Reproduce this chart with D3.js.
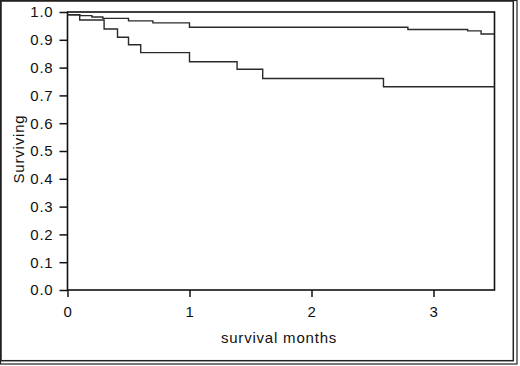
<!DOCTYPE html>
<html>
<head>
<meta charset="utf-8">
<script src="https://cdn.jsdelivr.net/npm/d3@7"></script>
<style>
  body { margin: 0; background: #fff; }
  svg { display: block; }
  text { font-family: "Liberation Sans", Arial, sans-serif; font-size: 15px; letter-spacing: 0.8px; fill: #111; }
</style>
</head>
<body>
<svg id="chart" width="520" height="366"></svg>
<script>
// Kaplan-Meier curves (time in months, survival fraction)
const upperTimes = [0, 0.10, 0.20, 0.29, 0.50, 0.70, 1.00, 2.79, 3.28, 3.39, 3.5];
const upperSurv  = [0.990, 0.987, 0.982, 0.977, 0.968, 0.961, 0.945, 0.937, 0.932, 0.921, 0.921];

const lowerTimes = [0, 0.10, 0.30, 0.41, 0.50, 0.60, 1.00, 1.39, 1.60, 2.59, 3.5];
const lowerSurv  = [0.990, 0.971, 0.939, 0.909, 0.882, 0.854, 0.821, 0.794, 0.761, 0.731, 0.731];

const xTicks = [0, 1, 2, 3];
const yTicks = [0, 0.1, 0.2, 0.3, 0.4, 0.5, 0.6, 0.7, 0.8, 0.9, 1.0];

const svg = d3.select("#chart");

// outer frame (double line on right / bottom)
svg.append("rect").attr("x", 0.5).attr("y", 0.5).attr("width", 516.5).attr("height", 363.5)
  .attr("fill", "none").attr("stroke", "#222").attr("stroke-width", 1.2);
svg.append("rect").attr("x", 1).attr("y", 1).attr("width", 512.3).attr("height", 359.7)
  .attr("fill", "none").attr("stroke", "#222").attr("stroke-width", 1.5);

const x = d3.scaleLinear().domain([0, 3.5]).range([67.5, 494.5]);
const y = d3.scaleLinear().domain([0, 1]).range([290, 12]);

svg.append("g")
  .attr("transform", "translate(" + x(0) + ",0)")
  .call(d3.axisLeft(y).tickValues(yTicks).tickFormat(d3.format(".1f")).tickSize(8).tickSizeOuter(0).tickPadding(6))
  .call(g => g.select(".domain").remove())
  .call(g => g.selectAll("line").attr("stroke", "#111").attr("stroke-width", 1.5))
  .call(g => g.selectAll("text").attr("font-size", null).attr("font-family", null).attr("fill", null));

svg.append("g")
  .attr("transform", "translate(0," + y(0) + ")")
  .call(d3.axisBottom(x).tickValues(xTicks).tickFormat(d3.format("d")).tickSize(7).tickSizeOuter(0).tickPadding(9))
  .call(g => g.select(".domain").remove())
  .call(g => g.selectAll("line").attr("stroke", "#111").attr("stroke-width", 1.5))
  .call(g => g.selectAll("text").attr("font-size", null).attr("font-family", null).attr("fill", null));

// plot box
svg.append("rect")
  .attr("x", x(0)).attr("y", y(1))
  .attr("width", x(3.5) - x(0)).attr("height", y(0) - y(1))
  .attr("fill", "none").attr("stroke", "#111").attr("stroke-width", 1.6);

const line = d3.line()
  .x(d => x(d[0]))
  .y(d => y(d[1]))
  .curve(d3.curveStepAfter);

const curves = [
  d3.zip(upperTimes, upperSurv),
  d3.zip(lowerTimes, lowerSurv)
];

svg.append("g").selectAll("path")
  .data(curves)
  .join("path")
    .attr("d", line)
    .attr("fill", "none")
    .attr("stroke", "#2a2a2a")
    .attr("stroke-width", 1.4);

svg.append("text")
  .attr("x", 279).attr("y", 343)
  .attr("text-anchor", "middle")
  .text("survival months");

svg.append("text")
  .attr("transform", "translate(24,149) rotate(-90)")
  .attr("text-anchor", "middle")
  .text("Surviving");
</script>
</body>
</html>
